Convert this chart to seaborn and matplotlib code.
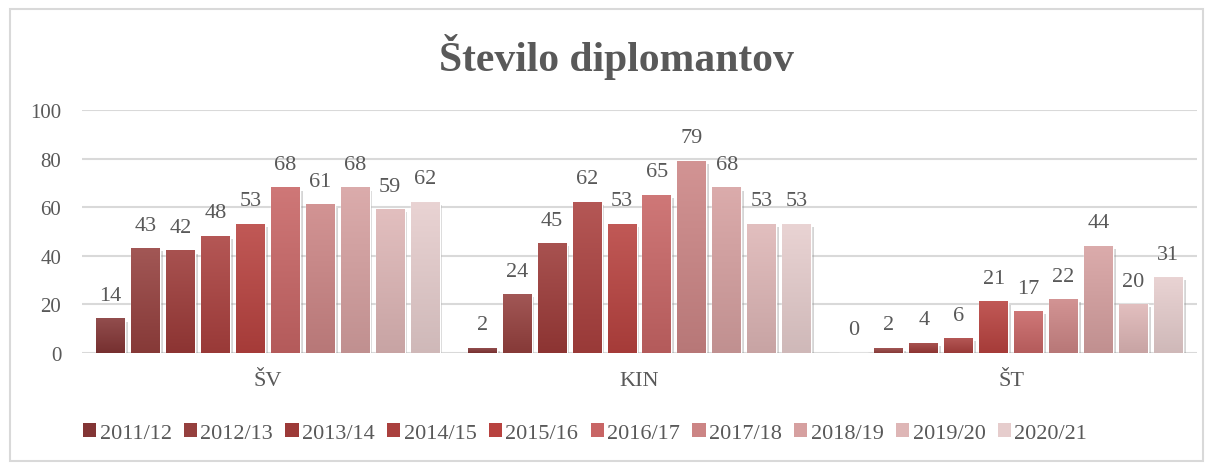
import numpy as np
import pandas as pd
import matplotlib
matplotlib.use("Agg")
import matplotlib.pyplot as plt
import matplotlib.colors as mcolors
import matplotlib.patheffects as pe
from matplotlib.patches import Rectangle, Patch
import seaborn as sns

# Data
categories = ['ŠV', 'KIN', 'ŠT']
years = ['2011/12', '2012/13', '2013/14', '2014/15', '2015/16',
         '2016/17', '2017/18', '2018/19', '2019/20', '2020/21']
sv = [14, 43, 42, 48, 53, 68, 61, 68, 59, 62]
kin = [2, 24, 45, 62, 53, 65, 79, 68, 53, 53]
st = [0, 2, 4, 6, 21, 17, 22, 44, 20, 31]

colors = ['#833535', '#95403e', '#9c3a38', '#aa403e', '#b8423f',
          '#c86565', '#cc8585', '#d6a0a0', '#deb6b6', '#e6cdcd']

rows = []
for cat, vals in zip(categories, [sv, kin, st]):
    for yr, v in zip(years, vals):
        rows.append({'cat': cat, 'year': yr, 'value': v})
df = pd.DataFrame(rows)

sns.set_style('white')
plt.rcParams['font.family'] = ['Liberation Serif', 'DejaVu Serif']
text_col = '#595959'

fig = plt.figure(figsize=(12.12, 4.64), dpi=100)
ax = fig.add_axes([82 / 1212, 1 - 354 / 464, 1115 / 1212, 243 / 464])

sns.barplot(data=df, x='cat', y='value', hue='year', hue_order=years,
            order=categories, palette=colors, width=0.94, gap=0.17,
            saturation=1, legend=False, ax=ax)

# gradient fill + soft shadow on each bar
for cont, col in zip(ax.containers, colors):
    rgb = np.array(mcolors.to_rgb(col))
    top = rgb + (1 - rgb) * 0.12
    bot = rgb * 0.90
    grad = np.linspace(bot, top, 64).reshape(64, 1, 3)
    for bar in cont:
        x, w, h = bar.get_x(), bar.get_width(), bar.get_height()
        bar.set_path_effects([pe.SimplePatchShadow(offset=(2, -2), shadow_rgbFace='#888888', alpha=0.35),
                              pe.Normal()])
        if h > 0:
            ax.imshow(grad, extent=[x, x + w, 0, h], origin='lower', aspect='auto',
                      zorder=bar.get_zorder() + 0.1, interpolation='bilinear')
    ax.bar_label(cont, padding=10, fontsize=16, color=text_col)

ax.set_xlim(-0.5, 2.5)
ax.set_ylim(0, 100)
ax.set_yticks(range(0, 101, 20))
ax.yaxis.grid(True, color='#d9d9d9', linewidth=1.5)
ax.set_axisbelow(True)
sns.despine(ax=ax, left=True, bottom=True)
ax.tick_params(axis='y', length=0, pad=15, labelsize=15, labelcolor=text_col)
ax.tick_params(axis='x', length=0, pad=13, labelsize=16, labelcolor=text_col)
ax.set_xlabel('')
ax.set_ylabel('')

fig.text(616 / 1212, 1 - 57 / 464, 'Število diplomantov', ha='center', va='center',
         fontsize=30, fontweight='bold', color=text_col)

handles = [Patch(facecolor=c, edgecolor='none') for c in colors]
fig.legend(handles, years, loc='center', bbox_to_anchor=(585 / 1212, 1 - 434 / 464),
           ncol=10, frameon=False, fontsize=16, labelcolor=text_col,
           handlelength=0.6, handleheight=0.6, handletextpad=0.15, columnspacing=0.55)

# chart border
fig.patches.append(Rectangle((10 / 1212, 2 / 464), 1193 / 1212, 452 / 464,
                             transform=fig.transFigure, fill=False,
                             edgecolor='#d9d9d9', linewidth=1.5))

fig.savefig('out.png', dpi=100)
